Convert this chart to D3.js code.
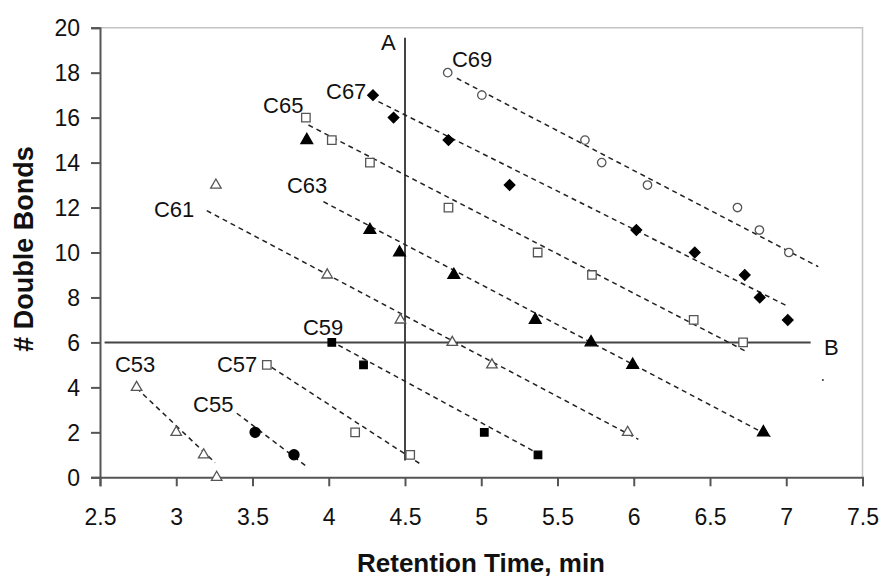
<!DOCTYPE html>
<html>
<head>
<meta charset="utf-8">
<script src="https://cdn.jsdelivr.net/npm/d3@7"></script>
<style>
  body { margin: 0; background: #fff; }
  svg { display: block; font-family: "Liberation Sans", Arial, sans-serif; }
</style>
</head>
<body>
<div id="chart"></div>
<script>
// --- Data ---
const seriesNames = ["C53", "C55", "C57", "C59", "C61", "C63", "C65", "C67", "C69"];

const c53x = [2.74, 3.0, 3.18, 3.265];
const c53y = [4, 2, 1, 0];
const c55x = [3.517, 3.772];
const c55y = [2, 1];
const c57x = [3.594, 4.173, 4.534];
const c57y = [5, 2, 1];
const c59x = [4.02, 4.228, 5.02, 5.372];
const c59y = [6, 5, 2, 1];
const c61x = [3.26, 3.99, 4.47, 4.81, 5.07, 5.96];
const c61y = [13, 9, 7, 6, 5, 2];
const c63x = [3.856, 4.27, 4.464, 4.82, 5.354, 5.72, 5.993, 6.85];
const c63y = [15, 11, 10, 9, 7, 6, 5, 2];
const c65x = [3.85, 4.02, 4.27, 4.785, 5.37, 5.726, 6.393, 6.717];
const c65y = [16, 15, 14, 12, 10, 9, 7, 6];
const c67x = [4.29, 4.425, 4.785, 5.186, 6.017, 6.4, 6.728, 6.826, 7.01];
const c67y = [17, 16, 15, 13, 11, 10, 9, 8, 7];
const c69x = [4.78, 5.004, 5.68, 5.79, 6.09, 6.68, 6.824, 7.017];
const c69y = [18, 17, 15, 14, 13, 12, 11, 10];

// dashed trend lines, [x1, y1, x2, y2] per series
const trendLines = [
    [2.74, 3.97, 3.255, 0.65],
    [3.397, 2.85, 3.863, 0.44],
    [3.626, 4.89, 4.595, 0.62],
    [4.063, 5.88, 5.41, 0.92],
    [3.2, 11.86, 6.03, 1.69],
    [3.965, 12.26, 6.896, 1.81],
    [3.867, 15.67, 6.74, 5.59],
    [4.326, 16.71, 6.995, 7.66],
    [4.84, 17.75, 7.21, 9.37]
];

// label anchors (left, baseline) in data units
const labelX = [2.598, 3.11, 3.267, 3.831, 2.854, 3.726, 3.569, 3.982, 4.808];
const labelY = [4.68, 2.9, 4.68, 6.33, 11.58, 12.65, 16.2, 16.83, 18.25];

// reference lines A and B
const lineA = { x: 4.5, y1: 0.75, y2: 19.55, labelX: 4.343, labelY: 19.01 };
const lineB = { y: 6, x1: 2.53, x2: 7.16, labelX: 7.247, labelY: 5.44 };
const strayDot = [7.24, 4.33];

const xTicks = [2.5, 3, 3.5, 4, 4.5, 5, 5.5, 6, 6.5, 7, 7.5];
const yTicks = [0, 2, 4, 6, 8, 10, 12, 14, 16, 18, 20];

const xs = [c53x, c55x, c57x, c59x, c61x, c63x, c65x, c67x, c69x];
const ys = [c53y, c55y, c57y, c59y, c61y, c63y, c65y, c67y, c69y];
const markers = ["openTri", "dot", "openSq", "sq", "openTri", "tri", "openSq", "diamond", "openCircle"];

// --- Setup ---
const width = 883, height = 578;
const margin = { top: 27.7, right: 20.5, bottom: 100.7, left: 100 };

const svg = d3.select("#chart").append("svg")
    .attr("width", width)
    .attr("height", height);

const x = d3.scaleLinear().domain([2.5, 7.5]).range([margin.left, width - margin.right]);
const y = d3.scaleLinear().domain([0, 20]).range([height - margin.bottom, margin.top]);

// plot frame (top/right light)
svg.append("path")
    .attr("d", `M${x(2.5)},${y(20)}H${x(7.5)}V${y(0)}`)
    .attr("fill", "none")
    .attr("stroke", "#c4c4c4")
    .attr("stroke-width", 1.5);

// axes
const xAxis = svg.append("g")
    .attr("transform", `translate(0,${y(0)})`)
    .call(d3.axisBottom(x).tickValues(xTicks).tickSize(9).tickFormat(d3.format("")));
const yAxis = svg.append("g")
    .attr("transform", `translate(${x(2.5)},0)`)
    .call(d3.axisLeft(y).tickValues(yTicks).tickSize(9).tickPadding(11));

[xAxis, yAxis].forEach(a => {
    a.select(".domain").attr("stroke", "#555").attr("stroke-width", 2);
    a.selectAll(".tick line").attr("stroke", "#555").attr("stroke-width", 2);
    a.selectAll(".tick text")
        .attr("fill", "#111")
        .style("font-size", "23px")
        .style("font-family", "'Liberation Sans', Arial, sans-serif");
});
xAxis.selectAll(".tick text").attr("dy", "0.35em").attr("y", 40);
yAxis.selectAll(".tick text").attr("dy", "0.36em");

// reference lines
svg.append("line")
    .attr("x1", x(lineA.x)).attr("x2", x(lineA.x))
    .attr("y1", y(lineA.y1)).attr("y2", y(lineA.y2))
    .attr("stroke", "#444").attr("stroke-width", 2);
svg.append("line")
    .attr("x1", x(lineB.x1)).attr("x2", x(lineB.x2))
    .attr("y1", y(lineB.y)).attr("y2", y(lineB.y))
    .attr("stroke", "#444").attr("stroke-width", 2);

svg.append("text").attr("x", x(lineA.labelX)).attr("y", y(lineA.labelY))
    .attr("fill", "#111").style("font-size", "22px").text("A");
svg.append("text").attr("x", x(lineB.labelX)).attr("y", y(lineB.labelY))
    .attr("fill", "#111").style("font-size", "22px").text("B");

svg.append("circle")
    .attr("cx", x(strayDot[0])).attr("cy", y(strayDot[1]))
    .attr("r", 1).attr("fill", "#333");

// trend lines
svg.append("g")
    .selectAll("line")
    .data(trendLines)
    .join("line")
    .attr("x1", d => x(d[0])).attr("y1", d => y(d[1]))
    .attr("x2", d => x(d[2])).attr("y2", d => y(d[3]))
    .attr("stroke", "#222")
    .attr("stroke-width", 1.5)
    .attr("stroke-dasharray", "5,4");

// markers (diamond = square turned 45deg)
const symbolFor = {
    openTri: { type: d3.symbolTriangle, size: 48, fill: "#fff", stroke: "#555", rot: 0 },
    tri: { type: d3.symbolTriangle, size: 60, fill: "#000", stroke: "#000", rot: 0 },
    openSq: { type: d3.symbolSquare, size: 72, fill: "#fff", stroke: "#555", rot: 0 },
    sq: { type: d3.symbolSquare, size: 56, fill: "#000", stroke: "#000", rot: 0 },
    dot: { type: d3.symbolCircle, size: 80, fill: "#000", stroke: "#000", rot: 0 },
    openCircle: { type: d3.symbolCircle, size: 56, fill: "#fff", stroke: "#555", rot: 0 },
    diamond: { type: d3.symbolSquare, size: 56, fill: "#000", stroke: "#000", rot: 45 }
};

seriesNames.forEach((name, i) => {
    const m = symbolFor[markers[i]];
    const pts = xs[i].map((v, j) => [v, ys[i][j]]);
    svg.append("g")
        .selectAll("path")
        .data(pts)
        .join("path")
        .attr("transform", d => `translate(${x(d[0])},${y(d[1])}) rotate(${m.rot})`)
        .attr("d", d3.symbol().type(m.type).size(m.size))
        .attr("fill", m.fill)
        .attr("stroke", m.stroke)
        .attr("stroke-width", 1.3);

    svg.append("text")
        .attr("x", x(labelX[i]))
        .attr("y", y(labelY[i]))
        .attr("fill", "#111")
        .style("font-size", "22px")
        .text(name);
});

// axis titles
svg.append("text")
    .attr("x", 481).attr("y", 572)
    .attr("text-anchor", "middle")
    .attr("fill", "#111")
    .style("font-size", "26px").style("font-weight", "bold")
    .text("Retention Time, min");

svg.append("text")
    .attr("transform", "translate(33,249) rotate(-90)")
    .attr("text-anchor", "middle")
    .attr("fill", "#111")
    .style("font-size", "27px").style("font-weight", "bold")
    .text("# Double Bonds");
</script>
</body>
</html>
